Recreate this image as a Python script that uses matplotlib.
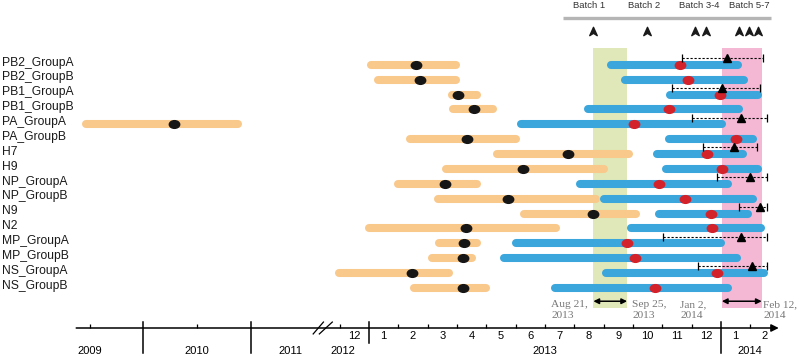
import numpy as np
import matplotlib.pyplot as plt
from matplotlib.path import Path

plt.rcParams['font.family'] = ['Liberation Sans', 'DejaVu Sans']

# time unit: months since 1 Jan 2013 (negative = before 2013)
segments = ['PB2_GroupA', 'PB2_GroupB', 'PB1_GroupA', 'PB1_GroupB', 'PA_GroupA',
            'PA_GroupB', 'H7', 'H9', 'NP_GroupA', 'NP_GroupB', 'N9', 'N2',
            'MP_GroupA', 'MP_GroupB', 'NS_GroupA', 'NS_GroupB']

# older lineage (orange) : start, end, black dot
old_start = [0.07, 0.31, 2.83, 2.86, -42.4, 1.40, 4.36, 2.63, 0.99, 2.35, 5.28, 0.0,
             2.39, 2.15, -2.5, 1.53]
old_end = [2.97, 2.97, 3.68, 4.23, -25.4, 5.01, 8.86, 8.01, 3.68, 7.74, 9.10, 6.38,
           3.68, 3.51, 2.73, 3.99]
old_dot = [1.60, 1.74, 3.03, 3.58, -32.6, 3.34, 6.78, 5.25, 2.59, 4.74, 7.64, 3.31,
           3.24, 3.20, 1.47, 3.20]

# recent lineage (blue) : start, end, red dot
new_start = [8.25, 8.73, 10.26, 7.47, 5.18, 10.23, 9.82, 10.13, 7.19, 8.01, 9.89, 8.93,
             5.01, 4.60, 8.08, 6.34]
new_end = [12.58, 12.79, 13.26, 12.61, 12.04, 13.09, 12.75, 13.26, 12.24, 13.09, 12.92,
           13.37, 12.00, 12.55, 13.47, 12.24]
new_dot = [10.60, 10.88, 11.97, 10.23, 9.03, 12.51, 11.52, 12.04, 9.89, 10.77, 11.66,
           11.69, 8.80, 9.07, 11.86, 9.75]

# dashed intervals with triangle
dash_rows = [0, 2, 4, 6, 8, 10, 12, 14]
dash_start = [10.67, 10.33, 11.01, 11.39, 11.86, 12.61, 10.02, 11.22]
dash_end = [13.43, 13.33, 13.57, 13.23, 13.57, 13.57, 13.57, 13.57]
dash_mark = [12.21, 12.04, 12.68, 12.44, 12.99, 13.33, 12.68, 13.06]

batch_times = [7.64, 9.48, 11.11, 11.49, 12.61, 12.96, 13.26]
batch_names = ['Batch 1', 'Batch 2', 'Batch 3-4', 'Batch 5-7']
batch_label_t = [7.50, 9.38, 11.25, 12.96]

# sampling windows: Aug 21 - Sep 25 2013, Jan 2 - Feb 12 2014
win_start = [7.65, 12.03]
win_end = [8.80, 13.39]
win_color = ['#e0e8b9', '#f4b7d4']
date_text = ['Aug 21,\n2013', 'Sep 25,\n2013', 'Jan 2,\n2014', 'Feb 12,\n2014']
date_left = [6.21, 8.97, 10.61, 13.44]

month_labels = ['12', '1', '2', '3', '4', '5', '6', '7', '8', '9', '10', '11', '12', '1', '2']
month_centers = [-0.5, 0.5, 1.5, 2.5, 3.5, 4.5, 5.5, 6.5, 7.5, 8.5, 9.5, 10.5, 11.5, 12.5, 13.5]
tick_marks = [-42, -30, -1, 1, 2, 3, 4, 5, 6, 7, 8, 9, 10, 11, 13]
years = ['2009', '2010', '2011', '2012', '2013', '2014']
year_pos = [-42, -30, -18.3, -0.9, 6.0, 13.0]
year_lines = [-36, -24, 12]

# compressed time axis (2009-2012 squeezed)
knot_t = [-80, -48, -36, -24, -12, -1, 0, 40]
knot_p = [37 - 32 * 9, 37, 143, 251, 333, 340, 369, 369 + 40 * 29.33]


def fwd(t):
    return np.interp(t, knot_t, knot_p)


def inv(p):
    return np.interp(p, knot_p, knot_t)


ORANGE = '#f9c98c'
BLUE = '#3aa6dc'
RED = '#d4222b'

fig = plt.figure(figsize=(7.99, 3.56), dpi=100)
ax = fig.add_axes([0, 28 / 356, 1, 328 / 356])
ax.set_xscale('function', functions=(fwd, inv))
ax.set_xlim(inv(0), inv(799))
ROW0, DY = 64.8, 14.87
ax.set_ylim((328 - ROW0) / DY, -ROW0 / DY)
for s in ax.spines.values():
    s.set_visible(False)

circ = Path.unit_circle()
ellipse = Path(circ.vertices * [1.35, 1.0], circ.codes)
head = Path([(0, 0.5), (0.45, -0.5), (0, -0.22), (-0.45, -0.5), (0, 0.5)],
            [Path.MOVETO, Path.LINETO, Path.LINETO, Path.LINETO, Path.CLOSEPOLY])

# shaded sampling windows
for t0, t1, col in zip(win_start, win_end, win_color):
    ax.fill_betweenx([-1.13, 16.36], t0, t1, color=col, lw=0, zorder=1)
    ax.annotate('', xy=(t1, 15.9), xytext=(t0, 15.9),
                arrowprops=dict(arrowstyle='<|-|>', color='black', lw=1.1,
                                mutation_scale=8, shrinkA=0, shrinkB=0))

rows = np.arange(len(segments))
for i in rows:
    ax.plot([old_start[i], old_end[i]], [i, i], color=ORANGE, lw=5.8,
            solid_capstyle='round', zorder=2)
    ax.plot([new_start[i], new_end[i]], [i, i], color=BLUE, lw=5.8,
            solid_capstyle='round', zorder=3)
ax.plot(old_dot, rows, ls='none', marker=ellipse, ms=7.5, color='#161616', zorder=4)
ax.plot(new_dot, rows, ls='none', marker=ellipse, ms=7.5, color=RED, zorder=4)

for r, s, e, m in zip(dash_rows, dash_start, dash_end, dash_mark):
    y = r - 0.45
    ax.plot([s, e], [y, y], color='black', lw=0.8, ls=(0, (2, 1.6)), zorder=5)
    ax.plot([s, e], [y, y], ls='none', marker='|', ms=6, mew=0.9, color='black', zorder=5)
    ax.plot([m], [y], ls='none', marker='^', ms=5.5, color='black', zorder=6)

for i, name in enumerate(segments):
    ax.text(0.002, i - 0.15, name, transform=ax.get_yaxis_transform(),
            ha='left', va='center', fontsize=8.7, color='#1a1a1a')

# batches
ax.plot([6.61, 13.69], [-3.13, -3.13], color='#b5b5b5', lw=2.4, solid_capstyle='butt')
ax.plot(batch_times, [-2.27] * len(batch_times), ls='none', marker=head, ms=6,
        color='#1a1a1a')
for t, name in zip(batch_label_t, batch_names):
    ax.text(t, -3.99, name, ha='center', va='center', fontsize=6.8, color='#333333')

for t, s in zip(date_left, date_text):
    ax.text(t, 16.5, s, ha='left', va='center', fontsize=8.2, color='#777777',
            family='Liberation Serif', linespacing=1.25)

# time axis
yb = (328 - ROW0) / DY
ax.annotate('', xy=(13.97, yb), xytext=(-43.56, yb),
            arrowprops=dict(arrowstyle='-|>', color='black', lw=1.1,
                            mutation_scale=11, shrinkA=0, shrinkB=0),
            annotation_clip=False)
ax.set_xticks(tick_marks)
ax.set_xticklabels([])
ax.set_xticks(month_centers, minor=True)
ax.set_xticklabels(month_labels, minor=True, fontsize=8)
ax.tick_params(axis='x', which='major', direction='in', length=3, width=0.9)
ax.tick_params(axis='x', which='minor', length=0, pad=2.5)
ax.set_yticks([])

for t in year_lines:
    ax.plot([t, t], [17.30, 19.38], color='black', lw=1.1, clip_on=False)
ax.plot([0, 0], [17.30, 18.71], color='black', lw=1.1, clip_on=False)
ax.plot([-14.9, -13.4], [18.1, 17.3], color='black', lw=0.9, clip_on=False)
ax.plot([-14.0, -12.1], [18.1, 17.3], color='black', lw=0.9, clip_on=False)
for t, s in zip(year_pos, years):
    ax.text(t, 19.25, s, ha='center', va='center', fontsize=8, clip_on=False)

fig.savefig('out.png', dpi=100)
